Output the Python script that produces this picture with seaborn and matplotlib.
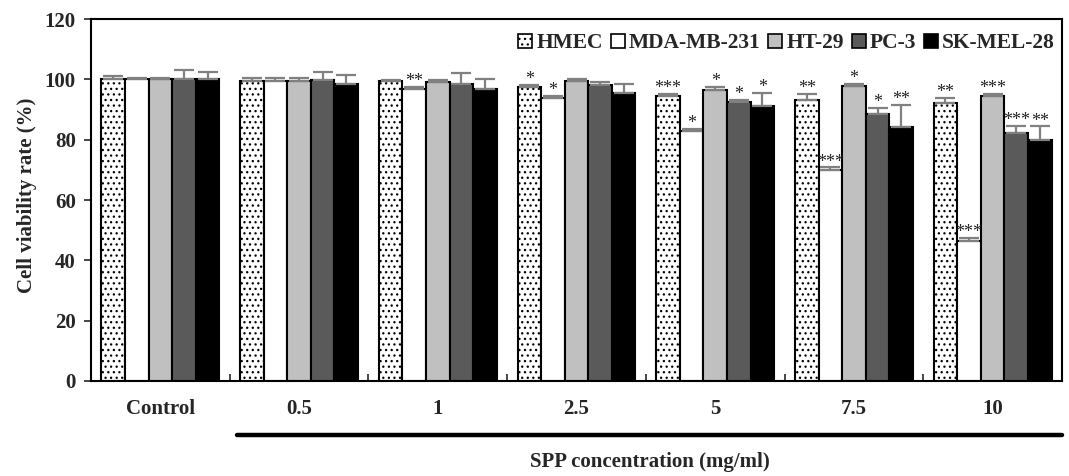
import numpy as np
import pandas as pd
import matplotlib
matplotlib.use("Agg")
import matplotlib.pyplot as plt
import seaborn as sns
from matplotlib.lines import Line2D
from matplotlib.patches import Patch

# ---------------- data ----------------
concentrations = ["Control", "0.5", "1", "2.5", "5", "7.5", "10"]
cell_lines = ["HMEC", "MDA-MB-231", "HT-29", "PC-3", "SK-MEL-28"]

hmec = [100.0, 99.4, 99.4, 97.3, 94.5, 93.0, 92.0]
mda = [100.0, 99.3, 96.9, 93.7, 82.9, 69.9, 46.5]
ht29 = [100.0, 99.3, 99.2, 99.3, 96.5, 97.7, 94.6]
pc3 = [100.0, 99.8, 98.3, 98.1, 92.6, 88.6, 82.3]
skmel = [100.0, 98.6, 96.8, 95.4, 91.1, 84.1, 79.8]

hmec_err = [1.1, 1.0, 0.3, 0.9, 0.7, 2.1, 1.9]
mda_err = [0.5, 1.0, 0.6, 0.9, 0.8, 0.9, 1.0]
ht29_err = [0.5, 1.0, 0.5, 0.9, 1.0, 0.9, 0.7]
pc3_err = [3.0, 2.6, 3.9, 0.9, 0.7, 1.9, 2.3]
skmel_err = [2.5, 2.8, 3.3, 3.1, 4.5, 7.4, 4.6]

hmec_sig = ["", "", "", "*", "***", "**", "**"]
mda_sig = ["", "", "**", "*", "*", "***", "***"]
ht29_sig = ["", "", "", "", "*", "*", "***"]
pc3_sig = ["", "", "", "", "*", "*", "***"]
skmel_sig = ["", "", "", "", "*", "**", "**"]

values = [hmec, mda, ht29, pc3, skmel]
errors = [hmec_err, mda_err, ht29_err, pc3_err, skmel_err]
sigs = [hmec_sig, mda_sig, ht29_sig, pc3_sig, skmel_sig]

colors = ["white", "white", "#c0c0c0", "#5a5a5a", "black"]

df = pd.DataFrame({
    "conc": np.repeat([concentrations], len(cell_lines), axis=0).ravel(),
    "line": np.repeat(cell_lines, len(concentrations)),
    "value": np.concatenate(values),
})

# ---------------- style ----------------
sns.set_style("ticks")
plt.rcParams["font.family"] = ["Liberation Serif", "DejaVu Serif"]
plt.rcParams["font.weight"] = "bold"
plt.rcParams["hatch.linewidth"] = 0.9
plt.rcParams["hatch.color"] = "black"

fig = plt.figure(figsize=(10.69, 4.76), dpi=100)
ax = fig.add_axes([91 / 1069, 1 - 381 / 476, (1062 - 91) / 1069, (381 - 19) / 476])

sns.barplot(data=df, x="conc", y="value", hue="line", order=concentrations,
            hue_order=cell_lines, palette=colors, errorbar=None, width=0.85,
            edgecolor="black", linewidth=1.5, legend=False, ax=ax, saturation=1)

bar_containers = list(ax.containers)
for i, cont in enumerate(bar_containers):
    for j, bar in enumerate(cont.patches):
        bar.set_facecolor(colors[i])
        bar.set_edgecolor("black")
        if i == 0:
            bar.set_hatch("...")
        xc = bar.get_x() + bar.get_width() / 2
        h = bar.get_height()
        e = errors[i][j]
        ax.errorbar([xc], [h], yerr=[[0], [e]], fmt="none", ecolor="#808080",
                    elinewidth=1.6, capsize=7, capthick=1.6, zorder=3)
        s = sigs[i][j]
        if s:
            ax.annotate(s, (xc, h + e), xytext=(0, 0.5), textcoords="offset points",
                        ha="center", va="baseline", fontsize=13, fontweight="normal",
                        color="#222222", zorder=4)

ax.set_ylim(0, 120)
ax.set_xlim(-0.5, len(concentrations) - 0.5)
ax.set_yticks(np.arange(0, 121, 20))
ax.set_yticklabels([str(v) for v in range(0, 121, 20)], fontsize=15, fontweight="bold")
ax.set_xticks(range(len(concentrations)))
ax.set_xticklabels(concentrations, fontsize=15, fontweight="bold")
ax.set_xticks(np.arange(0.5, len(concentrations) - 0.5, 1), minor=True)
ax.tick_params(axis="x", which="major", length=0, pad=13)
ax.tick_params(axis="x", which="minor", length=5, direction="in", width=1.2)
ax.tick_params(axis="y", length=5, width=1.2, pad=6)
ax.set_xlabel("")
ax.set_ylabel("")
for sp in ax.spines.values():
    sp.set_visible(True)
    sp.set_linewidth(1.5)
    sp.set_color("black")

handles = []
for i, name in enumerate(cell_lines):
    handles.append(Patch(facecolor=colors[i], edgecolor="black", linewidth=1.2,
                         hatch="..." if i == 0 else None, label=name))
ax.legend(handles=handles, loc="upper right", ncol=5, frameon=False,
          prop={"size": 15.5, "weight": "bold"}, handlelength=0.65, handleheight=0.65,
          handletextpad=0.2, columnspacing=0.35, borderaxespad=0.1,
          bbox_to_anchor=(1.004, 0.99))

fig.text(27 / 1069, 1 - 195 / 476, "Cell viability rate (%)", rotation=90,
         ha="center", va="center", fontsize=15, fontweight="bold")
fig.add_artist(Line2D([237 / 1069, 1062 / 1069], [1 - 435 / 476] * 2,
                      color="black", linewidth=3.2, transform=fig.transFigure))
fig.text(650 / 1069, 1 - 462 / 476, "SPP concentration (mg/ml)", ha="center",
         va="center", fontsize=15, fontweight="bold")

fig.savefig("out.png", dpi=100)
